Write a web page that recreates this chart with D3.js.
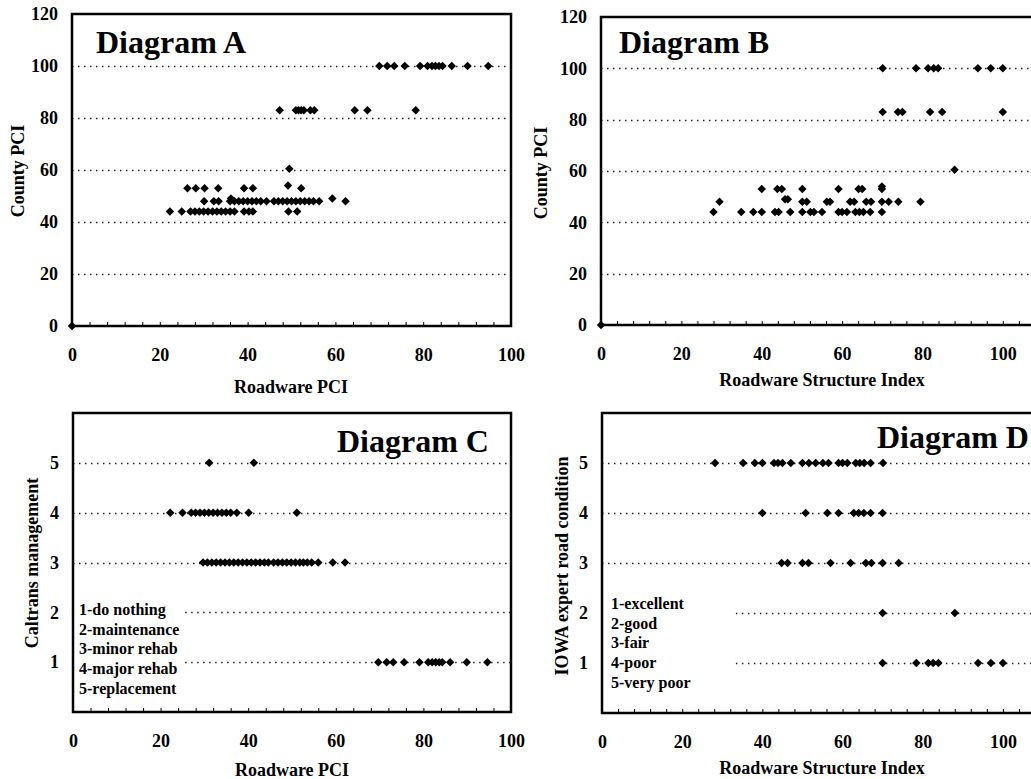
<!DOCTYPE html>
<html>
<head>
<meta charset="utf-8">
<script src="https://cdn.jsdelivr.net/npm/d3@7"></script>
<style>
  body { margin: 0; background: #fff; }
  text { font-family: "Liberation Serif", "Times New Roman", serif; font-weight: bold; fill: #000; }
</style>
</head>
<body>
<script>
// ---- data ----
// Diagram A: Roadware PCI (x) grouped by County PCI level (y)
var levelsA = [0, 44, 48, 49, 53, 54, 60.5, 83, 100];
var roadwareA = [
  [0],
  [22.3, 25, 27, 28, 29, 30, 31, 32, 33, 34, 35, 36, 37, 39.2, 40.3, 41.2, 49.3, 51.3],
  [30.1, 32.3, 33.4, 36, 37, 38, 39, 40, 41, 42, 43, 44.3, 46, 47, 48, 49, 50, 51, 52, 53, 54, 55, 56.3, 62.3],
  [36.2, 59.3],
  [26.3, 28.2, 30.2, 33.3, 39.2, 41.2, 52.2],
  [49.2],
  [49.5],
  [47.3, 51, 51.6, 52.2, 52.8, 54.3, 55.2, 64.4, 67.3, 78.3],
  [70, 71.8, 73.4, 75.8, 79.3, 81, 82, 82.8, 83.6, 84.4, 86.5, 90.1, 94.8]
];

// Diagram B: Roadware Structure Index (x) grouped by County PCI level (y)
var levelsB = [0, 44, 48, 49, 53, 54, 60.5, 83, 100];
var structureB = [
  [0],
  [28, 34.9, 37.9, 40, 43.3, 44.2, 47.1, 50.1, 52.1, 53, 55, 59.1, 60, 61.2, 63.3, 64.3, 65.3, 67, 69.9],
  [29.5, 50.1, 51.2, 56.2, 57, 62, 63, 66, 67.2, 69.9, 71.6, 74, 79.5],
  [45.8, 46.5],
  [40, 43.9, 45, 50.1, 59.1, 64.1, 65, 69.9],
  [69.9],
  [88],
  [70.1, 73.9, 75, 81.9, 84.9, 100],
  [70.1, 78.4, 81.4, 82.8, 83.9, 93.8, 97, 100]
];

// Diagram C: Roadware PCI (x) grouped by Caltrans management class (y)
var levelsC = [5, 4, 3, 1];
var roadwareC = [
  [31.1, 41.3],
  [22.2, 25, 27, 28, 29, 30, 31, 32, 33, 34, 35, 36, 37.4, 40.1, 51.1],
  [29.7, 30.7, 31.7, 32.7, 33.7, 34.7, 35.7, 36.7, 37.7, 38.7, 39.7, 40.7, 41.7, 42.7, 43.7, 44.6,
   45.8, 46.8, 47.8, 48.8, 49.8, 50.8, 51.8, 52.6, 53.5, 54.5, 56, 59.3, 62.1],
  [69.7, 71.6, 73.1, 75.6, 79.1, 81.1, 82, 82.8, 83.6, 84.3, 86.1, 89.9, 94.6]
];
var legendC = ["1-do nothing", "2-maintenance", "3-minor rehab", "4-major rehab", "5-replacement"];

// Diagram D: Roadware Structure Index (x) grouped by IOWA expert condition (y)
var levelsD = [5, 4, 3, 2, 1];
var structureD = [
  [28.2, 35.2, 38.1, 40, 42.9, 43.9, 45, 47.1, 50, 51.6, 53.3, 55.1, 56.5, 59, 60, 61.2, 63.3, 64.3, 65.4, 67, 70.1],
  [40, 50.8, 56.2, 59, 62.8, 64, 65.3, 67, 70],
  [44.8, 46.3, 50, 51.5, 57, 62, 65.8, 67.2, 70, 74],
  [70, 88],
  [70, 78.4, 81.4, 82.6, 83.9, 93.8, 97, 100]
];
var legendD = ["1-excellent", "2-good", "3-fair", "4-poor", "5-very poor"];

var xTicks = [0, 20, 40, 60, 80, 100];
var pciTicks = [0, 20, 40, 60, 80, 100, 120];
var classTicks = [1, 2, 3, 4, 5];

// ---- drawing ----
var W = 1031, H = 779;
var FONT = '"Liberation Serif", "Times New Roman", serif';
var svg = d3.select("body").append("svg").attr("width", W).attr("height", H);
svg.append("rect").attr("width", W).attr("height", H).attr("fill", "#fff");

var diamond = d3.symbol().type(d3.symbolSquare).size(36);

function toPoints(levels, rows) {
  var pts = [];
  levels.forEach(function (lv, i) {
    rows[i].forEach(function (v) { pts.push({ x: v, y: lv }); });
  });
  return pts;
}

function drawPanel(p) {
  var x = d3.scaleLinear().domain(p.xDomain).range([p.left, p.right]);
  var y = d3.scaleLinear().domain(p.yDomain).range([p.bottom, p.top]);
  var g = svg.append("g").attr("font-family", FONT).attr("font-weight", "bold");

  // dotted grid lines
  g.selectAll(".grid")
    .data(p.yTicks.filter(function (v) { return v > p.yDomain[0] && v < p.yDomain[1]; }))
    .enter().append("line")
    .attr("class", "grid")
    .attr("x1", function (v) { return (p.gridFrom && p.gridFrom[v] != null) ? x(p.gridFrom[v]) : p.left; })
    .attr("x2", p.right)
    .attr("y1", function (v) { return Math.round(y(v)) + 0.5; })
    .attr("y2", function (v) { return Math.round(y(v)) + 0.5; })
    .attr("stroke", "#222")
    .attr("stroke-width", 1.3)
    .attr("stroke-dasharray", "1.5,4.5");

  // minor ticks along the bottom, pointing inward
  var minor = g.append("g")
    .attr("transform", "translate(0," + p.bottom + ")")
    .call(d3.axisBottom(x).tickValues(d3.range(p.xDomain[0], p.xDomain[1] + 0.01, 4)).tickSize(-4).tickFormat(""));
  minor.select(".domain").remove();
  minor.selectAll("line").attr("stroke", "#000").attr("stroke-width", 1);

  // frame
  g.append("rect")
    .attr("x", p.left).attr("y", p.top)
    .attr("width", p.right - p.left).attr("height", p.bottom - p.top)
    .attr("fill", "none").attr("stroke", "#000").attr("stroke-width", 2.5);

  // x tick labels
  var xa = g.append("g")
    .attr("transform", "translate(0," + p.bottom + ")")
    .call(d3.axisBottom(x).tickValues(xTicks).tickSize(0).tickPadding(22));
  xa.select(".domain").remove();
  xa.selectAll("text").style("font-size", "18px").style("font-family", FONT).attr("fill", "#000");

  // y tick labels
  var ya = g.append("g")
    .attr("transform", "translate(" + p.left + ",0)")
    .call(d3.axisLeft(y).tickValues(p.yTicks).tickFormat(d3.format("d")).tickSize(0).tickPadding(14));
  ya.select(".domain").remove();
  ya.selectAll("text").style("font-size", "18px").style("font-family", FONT).attr("fill", "#000");

  // axis titles
  g.append("text")
    .attr("x", p.xTitleX).attr("y", p.xTitleY)
    .attr("text-anchor", "middle").style("font-size", "18px")
    .text(p.xTitle);
  g.append("text")
    .attr("transform", "translate(" + p.yTitleX + "," + p.yTitleY + ") rotate(-90)")
    .attr("text-anchor", "middle").attr("dy", "0.35em").style("font-size", "18px")
    .text(p.yTitle);

  // diagram name
  g.append("text")
    .attr("x", p.nameX).attr("y", p.nameY)
    .style("font-size", "32px")
    .text(p.name);

  // legend lines
  if (p.legend) {
    g.selectAll(".leg").data(p.legend).enter().append("text")
      .attr("x", p.legendX)
      .attr("y", function (d, i) { return p.legendY + i * 19.7; })
      .style("font-size", "16px")
      .text(function (d) { return d; });
  }

  // points
  g.selectAll(".pt").data(p.points).enter().append("path")
    .attr("class", "pt")
    .attr("d", diamond)
    .attr("transform", function (d) { return "translate(" + x(d.x) + "," + y(d.y) + ") rotate(45)"; })
    .attr("fill", "#000");
}

drawPanel({
  left: 72, right: 511, top: 14, bottom: 326,
  xDomain: [0, 100], yDomain: [0, 120], yTicks: pciTicks,
  xTitle: "Roadware PCI", xTitleX: 291, xTitleY: 393,
  yTitle: "County PCI", yTitleX: 18, yTitleY: 171,
  name: "Diagram A", nameX: 96, nameY: 53,
  points: toPoints(levelsA, roadwareA)
});

drawPanel({
  left: 601, right: 1043, top: 17, bottom: 325,
  xDomain: [0, 110], yDomain: [0, 120], yTicks: pciTicks,
  xTitle: "Roadware Structure Index", xTitleX: 822, xTitleY: 386,
  yTitle: "County PCI", yTitleX: 541, yTitleY: 173,
  name: "Diagram B", nameX: 619, nameY: 53,
  points: toPoints(levelsB, structureB)
});

drawPanel({
  left: 73, right: 511, top: 413, bottom: 712,
  xDomain: [0, 100], yDomain: [0, 6], yTicks: classTicks,
  gridFrom: { 1: 25.6, 2: 25.6 },
  xTitle: "Roadware PCI", xTitleX: 292, xTitleY: 776,
  yTitle: "Caltrans management", yTitleX: 32, yTitleY: 563,
  name: "Diagram C", nameX: 337, nameY: 452,
  legend: legendC, legendX: 79, legendY: 615,
  points: toPoints(levelsC, roadwareC)
});

drawPanel({
  left: 602, right: 1043, top: 413, bottom: 713,
  xDomain: [0, 110], yDomain: [0, 6], yTicks: classTicks,
  gridFrom: { 1: 33.4, 2: 33.4 },
  xTitle: "Roadware Structure Index", xTitleX: 822, xTitleY: 774,
  yTitle: "IOWA expert road condition", yTitleX: 562, yTitleY: 566,
  name: "Diagram D", nameX: 877, nameY: 448,
  legend: legendD, legendX: 611, legendY: 609,
  points: toPoints(levelsD, structureD)
});
</script>
</body>
</html>
